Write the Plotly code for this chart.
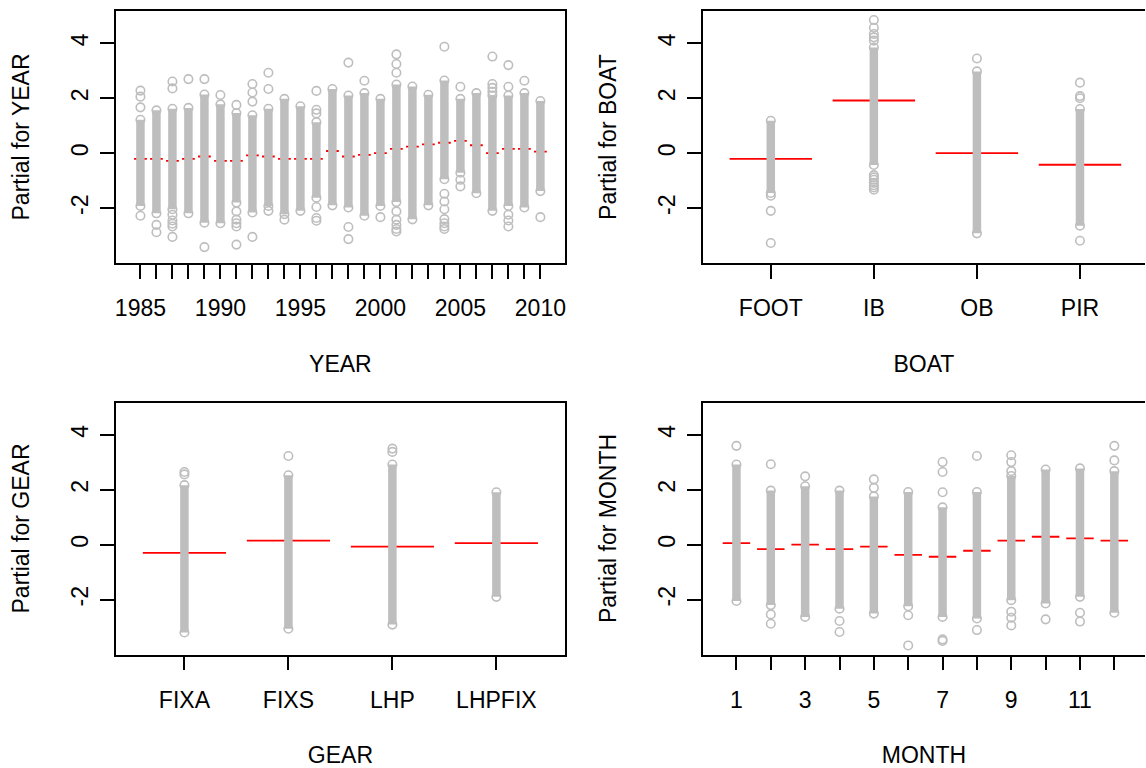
import plotly.graph_objects as go

# ---------------- data ----------------
years = list(range(1985, 2011))
year_labels = [str(y) if y % 5 == 0 else "" for y in years]
year_fit = [-0.21, -0.21, -0.28, -0.21, -0.12, -0.28, -0.28, -0.08, -0.12, -0.21, -0.21, -0.21, 0.08,
            -0.12, -0.06, 0.0, 0.16, 0.24, 0.32, 0.38, 0.45, 0.29, 0.0, 0.16, 0.16, 0.06]
year_hi = [1.22, 1.56, 1.62, 1.65, 2.14, 1.78, 1.46, 1.38, 1.62, 1.98, 1.71, 1.13, 2.34,
           2.10, 2.19, 1.98, 2.50, 2.43, 2.13, 2.65, 1.98, 2.19, 2.10, 2.10, 2.19, 1.90]
year_lo = [-1.92, -2.19, -2.04, -2.19, -2.53, -2.55, -1.80, -2.16, -1.92, -2.22, -2.10, -1.62, -1.90,
           -1.98, -2.28, -1.92, -1.78, -2.41, -1.90, -0.95, -0.71, -1.46, -2.10, -1.92, -1.98, -1.38]
year_out = [
    [2.28, 2.06, 1.67, -2.28],
    [-2.61, -2.88],
    [2.61, 2.36, -2.24, -2.45, -2.57, -2.67, -3.05],
    [2.70],
    [2.70, -3.42],
    [2.12],
    [1.76, -2.12, -2.42, -2.55, -2.67, -3.33],
    [2.52, 2.21, 1.88, -3.05],
    [2.93, 2.34, -2.10],
    [-2.42],
    [],
    [2.27, 1.58, 1.45, -1.96, -2.36, -2.46],
    [],
    [3.30, -2.69, -3.13],
    [2.64],
    [-2.33],
    [3.60, 3.25, 2.93, -2.12, -2.42, -2.61, -2.76, -2.85],
    [],
    [],
    [3.88, -1.48, -1.76, -2.04, -2.40, -2.55, -2.67, -2.76],
    [2.42, -0.97, -1.21],
    [],
    [3.52, 2.52, 2.38, 2.24],
    [3.21, 2.42, -2.24, -2.45, -2.67],
    [2.64],
    [-2.33],
]

boat_levels = ["FOOT", "IB", "OB", "PIR"]
boat_fit = [-0.21, 1.92, 0.0, -0.42]
boat_hi = [1.18, 3.85, 2.98, 1.61]
boat_lo = [-1.45, -0.43, -2.92, -2.64]
boat_out = [
    [-1.55, -2.10, -3.27],
    [4.85, 4.57, 4.34, 4.22, 4.10, -0.80, -0.88, -0.97, -1.08, -1.17, -1.25, -1.33],
    [3.45],
    [2.57, 2.08, 2.00, -3.19],
]

gear_levels = ["FIXA", "FIXS", "LHP", "LHPFIX"]
gear_fit = [-0.30, 0.15, -0.07, 0.06]
gear_hi = [2.17, 2.53, 2.92, 1.91]
gear_lo = [-3.20, -3.06, -2.91, -1.90]
gear_out = [[2.65, 2.56], [3.23], [3.50, 3.38], []]

months = list(range(1, 13))
month_labels = [str(m) if m % 2 == 1 else "" for m in months]
month_fit = [0.06, -0.16, 0.0, -0.16, -0.07, -0.37, -0.44, -0.22, 0.15, 0.29, 0.23, 0.15]
month_hi = [2.92, 1.97, 2.13, 1.97, 1.76, 1.92, 1.36, 1.92, 2.50, 2.74, 2.78, 2.68]
month_lo = [-2.05, -2.20, -2.63, -2.33, -2.51, -2.24, -2.63, -2.69, -2.02, -2.14, -1.90, -2.48]
month_out = [
    [3.60],
    [2.93, -2.54, -2.88],
    [2.49],
    [-2.78, -3.18],
    [2.38, 2.07],
    [-2.57, -3.67],
    [3.01, 2.65, 1.91, -3.45, -3.51],
    [3.23, -3.11],
    [3.26, 3.01, 2.68, -2.44, -2.66, -2.94],
    [-2.72],
    [-2.48, -2.80],
    [3.60, 3.07],
]

# ---------------- styling ----------------
GRAY = "#BEBEBE"
RED = "#FF0000"
FONT = "Liberation Sans, Arial, sans-serif"
FS = 23
Y_RANGE = [-4.0, 5.18]

fig = go.Figure()


def add_panel(xs, fit, hi, lo, outs, xa, ya):
    # fitted term segments (drawn first, residuals on top)
    sx, sy = [], []
    for x, f in zip(xs, fit):
        sx += [x - 0.4, x + 0.4, None]
        sy += [f, f, None]
    fig.add_trace(go.Scatter(x=sx, y=sy, mode="lines", xaxis=xa, yaxis=ya,
                             line=dict(color=RED, width=1.8), hoverinfo="skip"))
    # dense residual columns
    cx, cy = [], []
    for x, h, l in zip(xs, hi, lo):
        cx += [x, x, None]
        cy += [l, h, None]
    fig.add_trace(go.Scatter(x=cx, y=cy, mode="lines+markers", xaxis=xa, yaxis=ya,
                             line=dict(color=GRAY, width=8.5),
                             marker=dict(symbol="circle-open", size=8.5, color=GRAY, line=dict(width=1.6)),
                             hoverinfo="skip"))
    # separate residual points
    px, py = [], []
    for x, pts in zip(xs, outs):
        for p in pts:
            px.append(x)
            py.append(p)
    fig.add_trace(go.Scatter(x=px, y=py, mode="markers", xaxis=xa, yaxis=ya,
                             marker=dict(symbol="circle-open", size=8.5, color=GRAY, line=dict(width=1.6)),
                             hoverinfo="skip"))


add_panel(years, year_fit, year_hi, year_lo, year_out, "x", "y")
add_panel([1, 2, 3, 4], boat_fit, boat_hi, boat_lo, boat_out, "x2", "y2")
add_panel([1, 2, 3, 4], gear_fit, gear_hi, gear_lo, gear_out, "x3", "y3")
add_panel(months, month_fit, month_hi, month_lo, month_out, "x4", "y4")

W, H = 1146, 768
LEFT_X = [115 / W, 565 / W]
RIGHT_X = [703 / W, 1.0]
TOP_Y = [(H - 263) / H, (H - 11) / H]
BOT_Y = [(H - 654.5) / H, (H - 402.5) / H]

tickfont = dict(family=FONT, size=FS, color="black")
titlefont = dict(family=FONT, size=FS, color="black")


def xaxis(domain, anchor, rng, tickvals, ticktext, title):
    return dict(domain=domain, anchor=anchor, range=rng, tickmode="array",
                tickvals=tickvals, ticktext=ticktext, showgrid=False, zeroline=False,
                showline=True, linecolor="black", linewidth=1.5, mirror=True,
                ticks="outside", ticklen=14, tickwidth=1.5, tickcolor="black",
                tickfont=tickfont, tickangle=0, ticklabelstandoff=10,
                title=dict(text=title, font=titlefont, standoff=36))


def yaxis(domain, anchor, title, mirror):
    return dict(domain=domain, anchor=anchor, range=Y_RANGE, tickmode="array",
                tickvals=[-2, 0, 2, 4], ticktext=["-2", "0", "2", "4"],
                showgrid=False, zeroline=False, showline=True, linecolor="black",
                linewidth=1.5, mirror=mirror, ticks="outside", ticklen=14, tickwidth=1.5,
                tickcolor="black", tickfont=tickfont, tickangle=-90, ticklabelstandoff=3,
                title=dict(text=title, font=titlefont, standoff=31))


def partial_range(lo, hi, frac):
    return [lo, lo + (hi - lo) * frac]


right_frac = (1146 - 703) / (1149 - 703)

fig.update_layout(
    width=W, height=H, margin=dict(l=0, r=0, t=0, b=0),
    paper_bgcolor="white", plot_bgcolor="white", showlegend=False,
    font=dict(family=FONT, size=FS, color="black"),
    xaxis=xaxis(LEFT_X, "y", [1983.46, 2011.54], years, year_labels, "YEAR"),
    yaxis=yaxis(TOP_Y, "x", "Partial for YEAR", True),
    xaxis2=xaxis(RIGHT_X, "y2", partial_range(0.34, 4.66, right_frac), [1, 2, 3, 4], boat_levels, "BOAT"),
    yaxis2=yaxis(TOP_Y, "x2", "Partial for BOAT", False),
    xaxis3=xaxis(LEFT_X, "y3", [0.34, 4.66], [1, 2, 3, 4], gear_levels, "GEAR"),
    yaxis3=yaxis(BOT_Y, "x3", "Partial for GEAR", True),
    xaxis4=xaxis(RIGHT_X, "y4", partial_range(0.02, 12.98, right_frac), months, month_labels, "MONTH"),
    yaxis4=yaxis(BOT_Y, "x4", "Partial for MONTH", False),
)

fig.write_html("out.html")
